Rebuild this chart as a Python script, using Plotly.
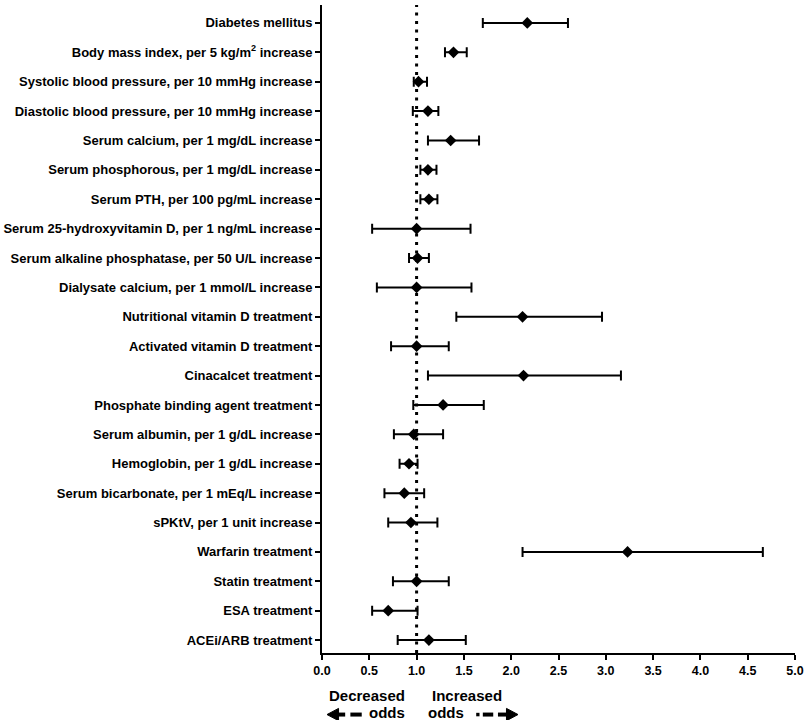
import plotly.graph_objects as go

labels = [
    "Diabetes mellitus",
    "Body mass index, per 5 kg/m<sup>2</sup> increase",
    "Systolic blood pressure, per 10 mmHg increase",
    "Diastolic blood pressure, per 10 mmHg increase",
    "Serum calcium, per 1 mg/dL increase",
    "Serum phosphorous, per 1 mg/dL increase",
    "Serum PTH, per 100 pg/mL increase",
    "Serum 25-hydroxyvitamin D, per 1 ng/mL increase",
    "Serum alkaline phosphatase, per 50 U/L increase",
    "Dialysate calcium, per 1 mmol/L increase",
    "Nutritional vitamin D treatment",
    "Activated vitamin D treatment",
    "Cinacalcet treatment",
    "Phosphate binding agent treatment",
    "Serum albumin, per 1 g/dL increase",
    "Hemoglobin, per 1 g/dL increase",
    "Serum bicarbonate, per 1 mEq/L increase",
    "sPKtV, per 1 unit increase",
    "Warfarin treatment",
    "Statin treatment",
    "ESA treatment",
    "ACEi/ARB treatment",
]
odds_ratio = [2.17, 1.39, 1.02, 1.12, 1.36, 1.12, 1.13, 1.00, 1.01, 1.00, 2.12,
              1.00, 2.13, 1.28, 0.97, 0.92, 0.87, 0.94, 3.23, 1.00, 0.70, 1.13]
ci_low = [1.70, 1.30, 0.97, 0.96, 1.12, 1.04, 1.04, 0.53, 0.92, 0.58, 1.42,
          0.73, 1.12, 0.965, 0.76, 0.82, 0.66, 0.70, 2.12, 0.75, 0.53, 0.80]
ci_high = [2.60, 1.53, 1.11, 1.23, 1.66, 1.21, 1.22, 1.57, 1.13, 1.58, 2.96,
           1.34, 3.16, 1.71, 1.28, 1.01, 1.08, 1.22, 4.66, 1.34, 1.01, 1.52]
x_ticks = [0.0, 0.5, 1.0, 1.5, 2.0, 2.5, 3.0, 3.5, 4.0, 4.5, 5.0]
x_tick_text = ["0.0", "0.5", "1.0", "1.5", "2.0", "2.5", "3.0", "3.5", "4.0", "4.5", "5.0"]

rows = list(range(len(labels)))
err_plus = [h - p for h, p in zip(ci_high, odds_ratio)]
err_minus = [p - l for p, l in zip(odds_ratio, ci_low)]

FONT = "Liberation Sans, Arial, sans-serif"

fig = go.Figure()
fig.add_trace(go.Scatter(
    x=odds_ratio, y=rows, mode="markers",
    marker=dict(symbol="diamond", size=9, color="black"),
    error_x=dict(type="data", symmetric=False, array=err_plus, arrayminus=err_minus,
                 color="black", thickness=2, width=5),
    showlegend=False, cliponaxis=False,
))

# Reference line at OR = 1
fig.add_shape(type="line", xref="x", yref="paper", x0=1, x1=1, y0=0, y1=1,
              line=dict(color="black", width=3, dash="3px,5.5px"), layer="below")

# Bottom annotations
ann_font = dict(family=FONT, size=15, color="black", weight="bold")
YT = -0.066
YA = -0.092
fig.add_annotation(xref="x", yref="paper", x=0.48, y=YT, text="Decreased",
                   showarrow=False, font=ann_font, xanchor="center", yanchor="middle")
fig.add_annotation(xref="x", yref="paper", x=0.69, y=YA, text="odds",
                   showarrow=False, font=ann_font, xanchor="center", yanchor="middle")
fig.add_annotation(xref="x", yref="paper", x=1.53, y=YT, text="Increased",
                   showarrow=False, font=ann_font, xanchor="center", yanchor="middle")
fig.add_annotation(xref="x", yref="paper", x=1.31, y=YA, text="odds",
                   showarrow=False, font=ann_font, xanchor="center", yanchor="middle")

# arrow heads (triangles) and dashed shafts
hh = 0.0095
YL = YA - 0.003
fig.add_shape(type="path", xref="x", yref="paper",
              path=f"M 0.053,{YL} L 0.175,{YL + hh} L 0.175,{YL - hh} Z",
              fillcolor="black", line=dict(color="black", width=1))
fig.add_shape(type="line", xref="x", yref="paper", x0=0.17, x1=0.245, y0=YL, y1=YL,
              line=dict(color="black", width=4))
fig.add_shape(type="line", xref="x", yref="paper", x0=0.30, x1=0.42, y0=YL, y1=YL,
              line=dict(color="black", width=4))
fig.add_shape(type="path", xref="x", yref="paper",
              path=f"M 2.072,{YL} L 1.95,{YL + hh} L 1.95,{YL - hh} Z",
              fillcolor="black", line=dict(color="black", width=1))
fig.add_shape(type="line", xref="x", yref="paper", x0=1.86, x1=1.955, y0=YL, y1=YL,
              line=dict(color="black", width=4))
fig.add_shape(type="line", xref="x", yref="paper", x0=1.70, x1=1.81, y0=YL, y1=YL,
              line=dict(color="black", width=4))
fig.add_shape(type="line", xref="x", yref="paper", x0=1.63, x1=1.665, y0=YL, y1=YL,
              line=dict(color="black", width=3.5))

fig.update_layout(
    width=805, height=720,
    margin=dict(l=322, r=10, t=5, b=67),
    paper_bgcolor="white", plot_bgcolor="white",
    font=dict(family=FONT, color="black"),
    xaxis=dict(range=[0, 5], tickvals=x_ticks, ticktext=x_tick_text, automargin=False,
               showgrid=False, zeroline=False, showline=True, linecolor="black", linewidth=2,
               ticks="outside", ticklen=5, tickwidth=2, tickcolor="black",
               tickfont=dict(family=FONT, size=12.5, color="black", weight="bold")),
    yaxis=dict(range=[21.44, -0.61], tickvals=rows, ticktext=labels, automargin=False,
               showgrid=False, zeroline=False, showline=True, linecolor="black", linewidth=2,
               ticks="outside", ticklen=5, tickwidth=2, tickcolor="black",
               tickfont=dict(family=FONT, size=13, color="black", weight="bold")),
)

fig.write_html("out.html", config={"displayModeBar": False},
               post_script="document.body.style.margin='0';document.body.style.overflow='hidden';")
